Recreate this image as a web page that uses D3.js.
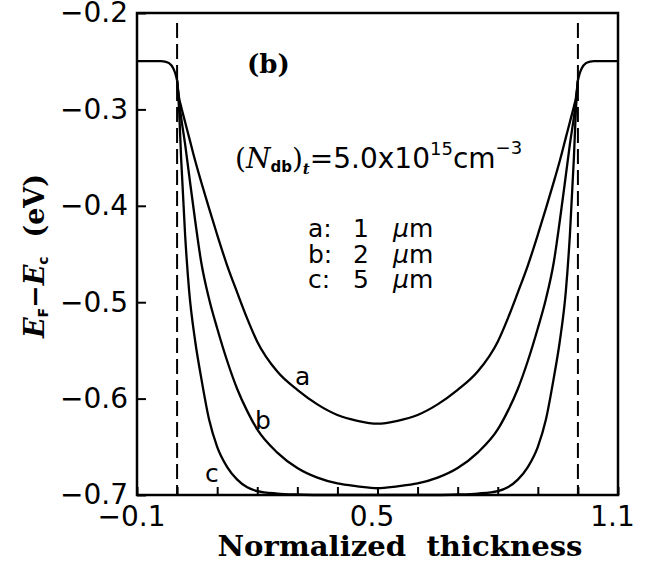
<!DOCTYPE html>
<html>
<head>
<meta charset="utf-8">
<script src="https://cdn.jsdelivr.net/npm/d3@7"></script>
<style>
  body { margin: 0; background: #fff; }
  svg { display: block; }
  .tick text { font-family: "DejaVu Sans", sans-serif; font-size: 28px; fill: #000; }
</style>
</head>
<body>
<svg id="chart" width="647" height="569"></svg>
<script>
// normalized thickness grid for the three curves inside the layer
const xInner = [0, 0.005, 0.01, 0.02, 0.03, 0.045, 0.06, 0.08, 0.1, 0.125, 0.15, 0.175, 0.2, 0.25, 0.3, 0.35, 0.4, 0.45, 0.5,
  0.55, 0.6, 0.65, 0.7, 0.75, 0.8, 0.825, 0.85, 0.875, 0.9, 0.92, 0.94, 0.955, 0.97, 0.98, 0.99, 0.995, 1.0];

// a: 1 um
const curveA = [-0.270, -0.288, -0.297, -0.313, -0.329, -0.353, -0.375, -0.403, -0.430, -0.462, -0.490, -0.517, -0.541, -0.572, -0.591, -0.606, -0.617, -0.623, -0.626,
  -0.623, -0.617, -0.606, -0.591, -0.572, -0.541, -0.517, -0.490, -0.462, -0.430, -0.403, -0.375, -0.353, -0.329, -0.313, -0.297, -0.288, -0.270];
// b: 2 um
const curveB = [-0.270, -0.292, -0.308, -0.336, -0.368, -0.415, -0.458, -0.497, -0.527, -0.561, -0.590, -0.613, -0.632, -0.656, -0.672, -0.682, -0.688, -0.691, -0.693,
  -0.691, -0.688, -0.682, -0.672, -0.656, -0.632, -0.613, -0.590, -0.561, -0.527, -0.497, -0.458, -0.415, -0.368, -0.336, -0.308, -0.292, -0.270];
// c: 5 um
const curveC = [-0.270, -0.300, -0.350, -0.430, -0.488, -0.540, -0.578, -0.622, -0.650, -0.671, -0.684, -0.692, -0.696, -0.6985, -0.6995, -0.700, -0.700, -0.700, -0.700,
  -0.700, -0.700, -0.700, -0.6995, -0.6985, -0.696, -0.692, -0.684, -0.671, -0.650, -0.622, -0.578, -0.540, -0.488, -0.430, -0.350, -0.300, -0.270];

// common part outside the layer
const xOuterLeft = [-0.1, -0.04, -0.03, -0.02, -0.01, -0.005, 0];
const yOuterLeft = [-0.25, -0.25, -0.2505, -0.252, -0.257, -0.262, -0.270];
const xOuterRight = [1.0, 1.005, 1.01, 1.02, 1.03, 1.04, 1.1];
const yOuterRight = [-0.270, -0.262, -0.257, -0.252, -0.2505, -0.25, -0.25];

const boundaries = [0, 1.0];
const xTicks = [-0.1, 0, 0.1, 0.2, 0.3, 0.4, 0.5, 0.6, 0.7, 0.8, 0.9, 1.0, 1.1];
const xTickLabels = ["\u22120.1", "", "", "", "", "", "0.5", "", "", "", "", "", "1.1"];
const yTicks = [-0.2, -0.3, -0.4, -0.5, -0.6, -0.7];
const yTickLabels = ["\u22120.2", "\u22120.3", "\u22120.4", "\u22120.5", "\u22120.6", "\u22120.7"];
const curveNames = ["a", "b", "c"];
const legendKeys = ["a:", "b:", "c:"];
const legendThick = ["1", "2", "5"];

const svg = d3.select("#chart");
const plotL = 137, plotR = 618, plotT = 13, plotB = 495;

const x = d3.scaleLinear().domain([-0.1, 1.1]).range([plotL, plotR]);
const y = d3.scaleLinear().domain([-0.7, -0.2]).range([plotB, plotT]);

// axes (ticks inward)
const xAxis = d3.axisBottom(x)
  .tickValues(xTicks)
  .tickSizeInner(-8).tickSizeOuter(0)
  .tickPadding(11)
  .tickFormat((d, i) => xTickLabels[i]);
const gx = svg.append("g").attr("transform", `translate(0,${plotB})`).call(xAxis);
gx.select(".domain").remove();
gx.selectAll(".tick line").attr("stroke", "#000").attr("stroke-width", 2);
gx.selectAll(".tick text").attr("dx", -6);

const yAxis = d3.axisLeft(y)
  .tickValues(yTicks)
  .tickSizeInner(-9).tickSizeOuter(0)
  .tickPadding(9)
  .tickFormat((d, i) => yTickLabels[i]);
const gy = svg.append("g").attr("transform", `translate(${plotL},0)`).call(yAxis);
gy.select(".domain").remove();
gy.selectAll(".tick line").attr("stroke", "#000").attr("stroke-width", 2);

// frame
svg.append("rect")
  .attr("x", plotL).attr("y", plotT)
  .attr("width", plotR - plotL).attr("height", plotB - plotT)
  .attr("fill", "none").attr("stroke", "#000").attr("stroke-width", 2.5);

// dashed layer boundaries
svg.selectAll(".bound").data(boundaries).enter().append("line")
  .attr("class", "bound")
  .attr("x1", d => x(d)).attr("x2", d => x(d))
  .attr("y1", plotT + 10).attr("y2", plotB)
  .attr("stroke", "#000").attr("stroke-width", 2)
  .attr("stroke-dasharray", "15,6");

const line = d3.line()
  .x(d => x(d[0])).y(d => y(d[1]))
  .curve(d3.curveMonotoneX);

const series = [curveA, curveB, curveC].map(ys => xInner.map((v, i) => [v, ys[i]]));
series.push(xOuterLeft.map((v, i) => [v, yOuterLeft[i]]));
series.push(xOuterRight.map((v, i) => [v, yOuterRight[i]]));

svg.append("g").selectAll("path").data(series).enter().append("path")
  .attr("d", line)
  .attr("fill", "none")
  .attr("stroke", "#000")
  .attr("stroke-width", 2.3)
  .attr("stroke-linejoin", "round");

// curve labels
const labelPos = [[295, 385], [255, 429], [205, 482]];
svg.selectAll(".clabel").data(curveNames).enter().append("text")
  .attr("class", "clabel")
  .attr("x", (d, i) => labelPos[i][0]).attr("y", (d, i) => labelPos[i][1])
  .attr("font-family", "DejaVu Sans, sans-serif")
  .attr("font-size", 25)
  .text(d => d);

// panel label
svg.append("text")
  .attr("x", 247).attr("y", 73)
  .attr("font-family", "DejaVu Serif, serif")
  .attr("font-weight", "bold")
  .attr("font-size", 26)
  .text("(b)");

// doping annotation
const ann = svg.append("text")
  .attr("x", 235).attr("y", 168)
  .attr("font-family", "DejaVu Sans, sans-serif")
  .attr("font-size", 28);
ann.append("tspan").attr("font-family", "DejaVu Serif, serif").text("(");
ann.append("tspan").attr("font-family", "DejaVu Serif, serif").attr("font-style", "italic").text("N");
ann.append("tspan").attr("font-size", 15).attr("font-weight", "bold").attr("dy", 4).text("db");
ann.append("tspan").attr("font-family", "DejaVu Serif, serif").attr("dy", -4).text(")");
ann.append("tspan").attr("font-family", "DejaVu Serif, serif").attr("font-style", "italic").attr("font-weight", "bold").attr("font-size", 15).attr("dy", 6).text("t");
ann.append("tspan").attr("dy", -6).text("=5.0x10");
ann.append("tspan").attr("font-size", 18).attr("dy", -13).text("15");
ann.append("tspan").attr("dy", 13).text("cm");
ann.append("tspan").attr("font-size", 18).attr("dy", -14).text("\u22123");

// legend lines
const leg = svg.selectAll(".leg").data(legendKeys).enter().append("text")
  .attr("class", "leg")
  .attr("y", (d, i) => 237 + i * 25.5)
  .attr("font-family", "DejaVu Sans, sans-serif")
  .attr("font-size", 25);
leg.append("tspan").attr("x", 308).text(d => d);
leg.append("tspan").attr("x", 353).text((d, i) => legendThick[i]);
leg.append("tspan").attr("x", 393).attr("font-style", "italic").text("\u03bc");
leg.append("tspan").text("m");

// x title
svg.append("text")
  .attr("x", 400).attr("y", 556)
  .attr("text-anchor", "middle")
  .attr("font-family", "DejaVu Serif, serif")
  .attr("font-weight", "bold")
  .attr("font-size", 27)
  .attr("textLength", 365).attr("lengthAdjust", "spacingAndGlyphs")
  .style("white-space", "pre")
  .text("Normalized  thickness");

// y title
const yt = svg.append("text")
  .attr("transform", "translate(44,256) rotate(-90)")
  .attr("text-anchor", "middle")
  .attr("font-family", "DejaVu Serif, serif")
  .attr("font-weight", "bold")
  .attr("font-size", 27)
  .style("white-space", "pre");
yt.append("tspan").attr("font-style", "italic").text("E");
yt.append("tspan").attr("font-family", "DejaVu Sans, sans-serif").attr("font-size", 14).attr("dy", 4).text("F");
yt.append("tspan").attr("dy", -4).text("\u2212");
yt.append("tspan").attr("font-style", "italic").text("E");
yt.append("tspan").attr("font-family", "DejaVu Sans, sans-serif").attr("font-size", 14).attr("dy", 4).text("c");
yt.append("tspan").attr("dy", -4).text("  (eV)");
</script>
</body>
</html>
